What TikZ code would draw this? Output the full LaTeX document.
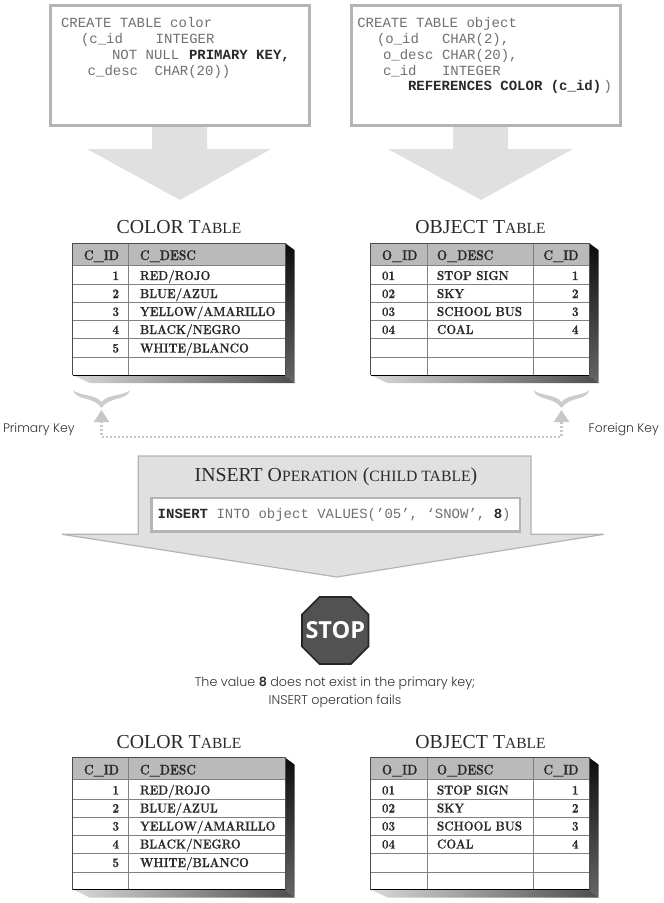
\documentclass[tikz,border=0pt]{standalone}
\usepackage{fontspec}
\usetikzlibrary{arrows.meta}
\setmonofont{Liberation Mono}
\newfontfamily\titlefont{Liberation Serif}
\newfontfamily\geofont{Poppins Light}[BoldFont={Poppins SemiBold}]
\newfontfamily\stopfont{Open Sans}
\newfontfamily\cellfont{Latin Modern Roman}[FakeStretch=0.89,FakeBold=0.5]
\newfontfamily\headfont{Latin Modern Roman}[FakeStretch=0.85,FakeBold=0.5]
\definecolor{pale}{HTML}{E0E0E0}
\definecolor{edge}{HTML}{B4B4B4}
\definecolor{codeink}{HTML}{707070}
\definecolor{boldink}{HTML}{2A2A2A}
\tikzset{
  x=1pt,y=-1pt,
  every node/.style={inner sep=0pt,outer sep=0pt},
  codebox/.style={draw=edge,line width=3pt,fill=white},
  bigarrow/.style={fill=pale,draw=none},
  codetxt/.style={anchor=base west,text=codeink,font=\fontsize{14}{16}\selectfont\ttfamily},
  codebold/.style={anchor=base west,text=boldink,font=\fontsize{14}{16}\selectfont\ttfamily\bfseries},
  tabletitle/.style={anchor=base,text=boldink,font=\fontsize{19.8}{21}\selectfont\titlefont},
  cellL/.style={anchor=base west,text=boldink,font=\fontsize{13}{14}\selectfont\cellfont\bfseries},
  cellR/.style={anchor=base east,text=boldink,font=\fontsize{13}{14}\selectfont\cellfont\bfseries},
  headL/.style={anchor=base west,text=boldink,font=\fontsize{14}{15}\selectfont\headfont\bfseries},
  headR/.style={anchor=base east,text=boldink,font=\fontsize{14}{15}\selectfont\headfont\bfseries},
  gridline/.style={draw=black!50,line width=0.6pt},
  keylabel/.style={anchor=base west,text=black!80,font=\fontsize{12.4}{14}\selectfont\geofont},
  keybrace/.style={fill=black!20,draw=none},
  keylink/.style={draw=black!22,line width=2.2pt,dash pattern=on 2pt off 2pt,
     {Triangle[length=12pt,width=15pt,fill=black!22]}-{Triangle[length=12pt,width=15pt,fill=black!22]}},
}
\newcommand{\tableframe}[2]{%
  \shade[top color=black!95,bottom color=black!60] (#2,243) -- (#2+9.5,250) -- (#2+9.5,383) -- (#2,375) -- cycle;
  \shade[left color=black!15,right color=black!70] (#1,375) -- (#1+17,383) -- (#2+9.5,383) -- (#2,375) -- cycle;
  \fill[white] (#1,243) rectangle (#2,375);
  \fill[black!27] (#1,243) rectangle (#2,265);
  \foreach \yy in {265,284.3,302.7,320.7,338.7,357.3} \draw[gridline] (#1,\yy) -- (#2,\yy);
}
\newcommand{\tableborder}[2]{%
  \draw[black!70,line width=1pt] (#1,375) -- (#1,243) -- (#2,243) -- (#2,375);
  \draw[black,line width=0.9pt] (#1,375) -- (#2,375);
}
\newcommand{\colortable}[2]{%
  \begin{scope}[shift={(0,#1)}]
    \node[tabletitle] (#2title) at (179,233.5) {COLOR T{\fontsize{15.5}{16}\selectfont ABLE}};
    \tableframe{72.7}{285}
    \draw[gridline] (128.3,243) -- (128.3,375);
    \tableborder{72.7}{285}
    \node[headR] (#2h1) at (119,260) {C\_ID};
    \node[headL] (#2h2) at (140,260) {C\_DESC};
    \node[cellR] (#2a1) at (119,280) {1};
    \node[cellL] (#2b1) at (140,280) {RED/ROJO};
    \node[cellR] (#2a2) at (119,298) {2};
    \node[cellL] (#2b2) at (140,298) {BLUE/AZUL};
    \node[cellR] (#2a3) at (119,316) {3};
    \node[cellL] (#2b3) at (140,316) {YELLOW/AMARILLO};
    \node[cellR] (#2a4) at (119,334) {4};
    \node[cellL] (#2b4) at (140,334) {BLACK/NEGRO};
    \node[cellR] (#2a5) at (119,352.5) {5};
    \node[cellL] (#2b5) at (140,352.5) {WHITE/BLANCO};
  \end{scope}
}
\newcommand{\objecttable}[2]{%
  \begin{scope}[shift={(0,#1)}]
    \node[tabletitle] (#2title) at (480.5,233.5) {OBJECT T{\fontsize{15.5}{16}\selectfont ABLE}};
    \tableframe{370.5}{589}
    \draw[gridline] (427.3,243) -- (427.3,375);
    \draw[gridline] (533.3,243) -- (533.3,375);
    \tableborder{370.5}{589}
    \node[headL] (#2h1) at (382,260) {O\_ID};
    \node[headL] (#2h2) at (437,260) {O\_DESC};
    \node[headR] (#2h3) at (578.5,260) {C\_ID};
    \node[cellL] (#2a1) at (382,280) {01};
    \node[cellL] (#2b1) at (437,280) {STOP SIGN};
    \node[cellR] (#2c1) at (578.5,280) {1};
    \node[cellL] (#2a2) at (382,298) {02};
    \node[cellL] (#2b2) at (437,298) {SKY};
    \node[cellR] (#2c2) at (578.5,298) {2};
    \node[cellL] (#2a3) at (382,316) {03};
    \node[cellL] (#2b3) at (437,316) {SCHOOL BUS};
    \node[cellR] (#2c3) at (578.5,316) {3};
    \node[cellL] (#2a4) at (382,334) {04};
    \node[cellL] (#2b4) at (437,334) {COAL};
    \node[cellR] (#2c4) at (578.5,334) {4};
  \end{scope}
}
\newcommand{\keybrace}[2]{%
  \fill[keybrace] (#1,390)
     .. controls (#1+3,401) and (#2-8,396) .. (#2,408)
     .. controls (#2+8,396) and (2*#2-#1-3,401) .. (2*#2-#1,390)
     .. controls (2*#2-#1-6,396) and (#2+6,394) .. (#2,402)
     .. controls (#2-6,394) and (#1+6,396) .. (#1,390) -- cycle;
}
\begin{document}
\begin{tikzpicture}
\useasboundingbox (0,0) rectangle (664,903);
\fill[bigarrow] (152,126) -- (207,126) -- (207,149) -- (271,149) -- (180,200) -- (87,149) -- (152,149) -- cycle;
\fill[bigarrow] (453,126) -- (508,126) -- (508,149) -- (573,149) -- (481,200) -- (388,149) -- (453,149) -- cycle;
\draw[codebox] (50.5,5.5) rectangle (309,125);
\draw[codebox] (351,5.5) rectangle (620,125);
\node[codetxt] (l1) at (61,27.5) {CREATE TABLE color};
\node[codetxt] (l2a) at (81,43) {(c\_id};
\node[codetxt] (l2b) at (155.7,43) {INTEGER};
\node[codetxt] (l3a) at (112,59) {NOT NULL};
\node[codebold] (l3b) at (189,59) {PRIMARY KEY,};
\node[codetxt] (l4a) at (87.7,75) {c\_desc};
\node[codetxt] (l4b) at (154.7,75) {CHAR(20))};
\node[codetxt] (r1) at (357.3,27.5) {CREATE TABLE object};
\node[codetxt] (r2a) at (377,43) {(o\_id};
\node[codetxt] (r2b) at (442,43) {CHAR(2),};
\node[codetxt] (r3a) at (383,59) {o\_desc};
\node[codetxt] (r3b) at (442,59) {CHAR(20),};
\node[codetxt] (r4a) at (383,75) {c\_id};
\node[codetxt] (r4b) at (442,75) {INTEGER};
\node[codebold] (r5a) at (408,90.5) {REFERENCES COLOR (c\_id)};
\node[codetxt] (r5b) at (603.7,90.5) {)};
\colortable{0}{ct}
\objecttable{0}{ot}
\keybrace{73}{101.5}
\keybrace{533.5}{561.5}
\coordinate (pk) at (101.5,410);
\coordinate (fk) at (561.5,410);
\coordinate (pkc) at (101.5,436.7);
\coordinate (fkc) at (561.5,436.7);
\draw[keylink] (pk) -- (pkc) -- (fkc) -- (fk);
\node[keylabel] (pklabel) at (3,432.5) {Primary Key};
\node[keylabel] (fklabel) at (588.7,432.5) {Foreign Key};
\draw[fill=pale,draw=edge,line width=1.2pt,line join=miter] (138.3,456) -- (531,456) -- (531,534.3) -- (604,534.3) -- (336.7,577) -- (62,534.3) -- (138.3,534.3) -- cycle;
\node[tabletitle] (institle) at (336,481) {INSERT O{\fontsize{15.7}{16}\selectfont PERATION} ({\fontsize{15.7}{16}\selectfont CHILD TABLE})};
\draw[fill=white,draw=edge,line width=2.5pt] (151.5,498) rectangle (520,531.5);
\node[codetxt] (ins) at (157.7,518) {{\bfseries\color{boldink}INSERT} INTO object VALUES(’05’, ‘SNOW’, {\bfseries\color{boldink}8})};
\draw[fill=black!68,draw=black!85,line width=1.6pt,line join=miter]
  (319.5,597) -- (351,597) -- (368.5,614.5) -- (368.5,646.5) -- (351,664) -- (319.5,664) -- (302,646.5) -- (302,614.5) -- cycle;
\node[text=white,font=\fontsize{23.5}{26}\selectfont\stopfont\bfseries] (stoptxt) at (335.3,630.5) {STOP};
\node[align=center,text=black!80,font=\fontsize{12.7}{17.5}\selectfont\geofont] (caption) at (335,692.5) {The value {\bfseries 8} does not exist in the primary key;\\INSERT operation fails};
\colortable{514.5}{cb}
\objecttable{514.5}{ob}
\end{tikzpicture}
\end{document}
